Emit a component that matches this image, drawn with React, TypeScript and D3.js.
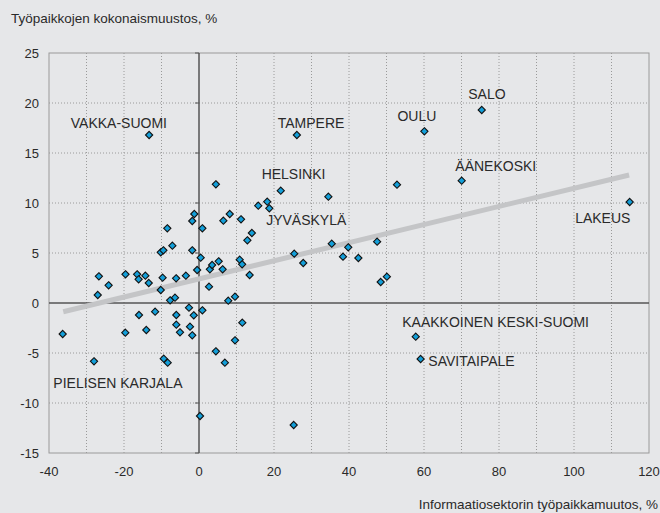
import React from "react";
import * as d3 from "d3";

// Information sector job change (%) per region
const infoChange: number[] = [
  -36.35, -28, -27.0, -26.7, -24.1, -19.65, -19.6, -16.5, -16.1, -16, -14.3, -14.05, -13.4, -13.3,
  -11.7, -10.2, -10.2, -9.5, -9.7, -9.4, -8.45, -8.35, -7.7, -7.1, -6.4, -6.1, -6.05, -6.05, -5.07,
  -3.5, -2.67, -2.4, -1.8, -1.8, -1.25, -1.8, -1.4, -0.5, 0.27, 0.45, 0.9, 0.9, 2.67, 2.9, 3.5, 4.5,
  4.5, 5.25, 6.3, 6.5, 6.9, 7.8, 8.2, 9.6, 9.6, 10.85, 11.2, 11.5, 11.55, 12.9, 13.5, 14.1, 15.8,
  18.2, 18.75, 21.8, 25.25, 25.4, 26.1, 27.8, 34.5, 35.4, 38.4, 39.8, 42.5, 47.5, 48.45, 50.1, 52.8,
  57.8, 59.1, 60.1, 70.05, 75.4, 114.85,
];
// Total job change (%) per region
const totalChange: number[] = [
  -3.1, -5.83, 0.8, 2.67, 1.77, -2.97, 2.87, 2.87, 2.37, -1.2, 2.73, -2.7, 2.0, 16.8,
  -0.87, 1.3, 5.07, 5.27, 2.53, -5.57, 7.47, -5.97, 0.27, 5.73, 0.53, 2.47, -1.2, -2.17, -2.93,
  2.73, -0.47, -2.37, 5.27, 8.2, 8.9, -3.23, -1.23, 3.3, -11.3, 4.53, 7.47, -0.73, 1.63, 3.37, 3.8, 11.87,
  -4.83, 4.17, 3.37, 8.23, -5.97, 0.23, 8.9, 0.63, -3.73, 4.33, 8.37, 3.87, -1.97, 6.27, 2.8, 7.0, 9.73,
  10.13, 9.47, 11.23, -12.2, 4.93, 16.8, 4.0, 10.63, 5.93, 4.63, 5.57, 4.5, 6.13, 2.1, 2.63, 11.83,
  -3.37, -5.6, 17.17, 12.23, 19.3, 10.1,
];

// Region labels and their anchor (data units, text start / baseline)
const labelNames: string[] = [
  "VAKKA-SUOMI", "TAMPERE", "HELSINKI", "JYVÄSKYLÄ", "OULU", "SALO", "ÄÄNEKOSKI", "LAKEUS",
  "KAAKKOINEN KESKI-SUOMI", "SAVITAIPALE", "PIELISEN KARJALA",
];
const labelX: number[] = [-34.2, 21.0, 16.7, 17.9, 52.9, 71.8, 68.35, 100.3, 54.2, 61.15, -38.85];
const labelY: number[] = [17.53, 17.53, 12.4, 7.8, 18.23, 20.37, 13.23, 8.0, -2.37, -6.27, -8.47];

// Trend line end points
const trendX: number[] = [-36.2, 114.7];
const trendY: number[] = [-0.87, 12.8];

const xTicks: number[] = [-40, -20, 0, 20, 40, 60, 80, 100, 120];
const yTicks: number[] = [-15, -10, -5, 0, 5, 10, 15, 20, 25];
const xGrid: number[] = d3.range(-30, 120, 10);

const W = 660;
const H = 513;
const L = 49, R = 649, T = 53, B = 453;
const FONT = "'Liberation Sans', Arial, Helvetica, sans-serif";
const BG = "#e6e7e9";
const TEXT = "#2a2a2a";

export default function App() {
  const x = d3.scaleLinear().domain([-40, 120]).range([L, R]);
  const y = d3.scaleLinear().domain([-15, 25]).range([B, T]);
  const s = 3.6;
  const diamond = (cx: number, cy: number) =>
    `M${cx},${cy - s}L${cx + s},${cy}L${cx},${cy + s}L${cx - s},${cy}Z`;
  const trend = d3
    .line<number>()
    .x((_, i) => x(trendX[i]))
    .y((d) => y(d))(trendY);

  return (
    <svg
      width={W}
      height={H}
      style={{ position: "absolute", left: 0, top: 0, background: BG }}
      fontFamily={FONT}
    >
      <rect x={0} y={0} width={W} height={H} fill={BG} />
      {/* grid */}
      {xGrid
        .filter((v) => v !== 0)
        .map((v) => (
          <line key={"gx" + v} x1={x(v)} x2={x(v)} y1={T} y2={B} stroke="#9a9a9a" strokeWidth={1} strokeDasharray="1,2" />
        ))}
      {yTicks
        .filter((v) => v !== 0 && v !== -15 && v !== 25)
        .map((v) => (
          <line key={"gy" + v} x1={L} x2={R} y1={y(v)} y2={y(v)} stroke="#9a9a9a" strokeWidth={1} strokeDasharray="1,2" />
        ))}
      {/* border */}
      <rect x={L} y={T} width={R - L} height={B - T} fill="none" stroke="#9a9a9a" strokeWidth={1} />
      {/* zero axes */}
      <line x1={x(0)} x2={x(0)} y1={T} y2={B} stroke="#555" strokeWidth={1.5} />
      <line x1={L} x2={R} y1={y(0)} y2={y(0)} stroke="#555" strokeWidth={1.5} />
      {yTicks.map((v) => (
        <line key={"yt" + v} x1={x(0) - 4} x2={x(0)} y1={y(v)} y2={y(v)} stroke="#555" strokeWidth={1} />
      ))}
      {/* trend */}
      <path d={trend || ""} fill="none" stroke="#c4c5c7" strokeWidth={5} />
      {/* points */}
      {infoChange.map((v, i) => (
        <path key={"p" + i} d={diamond(x(v), y(totalChange[i]))} fill="#139fd9" stroke="#111" strokeWidth={1.1} />
      ))}
      {/* labels */}
      {labelNames.map((n, i) => (
        <text key={"l" + i} x={x(labelX[i])} y={y(labelY[i])} fontSize={14} fill={TEXT}>
          {n}
        </text>
      ))}
      {/* tick labels */}
      {yTicks.map((v) => (
        <text key={"yl" + v} x={39} y={y(v) + 4.5} fontSize={13} textAnchor="end" fill={TEXT}>
          {v}
        </text>
      ))}
      {xTicks.map((v) => (
        <text key={"xl" + v} x={x(v)} y={476} fontSize={13} textAnchor="middle" fill={TEXT}>
          {v}
        </text>
      ))}
      <text x={11} y={23} fontSize={13.5} fill={TEXT}>
        Työpaikkojen kokonaismuustos, %
      </text>
      <text x={658} y={509} fontSize={13.5} textAnchor="end" fill={TEXT}>
        Informaatiosektorin työpaikkamuutos, %
      </text>
    </svg>
  );
}
